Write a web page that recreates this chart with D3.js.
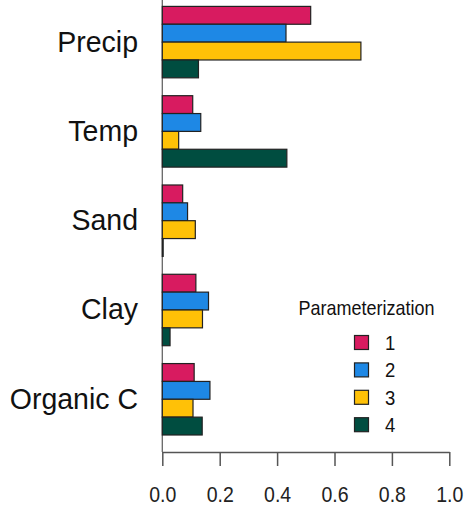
<!DOCTYPE html>
<html>
<head>
<meta charset="utf-8">
<script src="https://cdn.jsdelivr.net/npm/d3@7"></script>
<style>
  html, body { margin: 0; padding: 0; background: #fff; }
  svg { display: block; font-family: "Liberation Sans", Arial, sans-serif; }
</style>
</head>
<body>
<svg id="chart" width="466" height="510"></svg>
<script>
const categories = ["Precip", "Temp", "Sand", "Clay", "Organic C"];
const seriesNames = ["1", "2", "3", "4"];
const seriesColors = ["#D81B60", "#1E88E5", "#FFC107", "#004D40"];
const values1 = [0.517, 0.106, 0.071, 0.117, 0.111];
const values2 = [0.431, 0.134, 0.088, 0.161, 0.166];
const values3 = [0.692, 0.057, 0.115, 0.140, 0.107];
const values4 = [0.126, 0.434, 0.003, 0.027, 0.139];
const xTicks = [0, 0.2, 0.4, 0.6, 0.8, 1.0];
const legendTitle = "Parameterization";

const series = [values1, values2, values3, values4];

const svg = d3.select("#chart");
const x = d3.scaleLinear().domain([0, 1]).range([162.3, 449.3]);
// positions in bar units: each group = 4 bars + 1 gap
const y = d3.scaleLinear().domain([0, 24]).range([6.4, 435]);
const barH = y(1) - y(0);

const rows = [];
categories.forEach((c, gi) => {
  series.forEach((vals, si) => {
    rows.push({ cat: c, s: si, v: vals[gi], pos: gi * 5 + si });
  });
});

// y axis line
svg.append("line")
  .attr("x1", x(0)).attr("x2", x(0))
  .attr("y1", 0).attr("y2", 452)
  .attr("stroke", "#666").attr("stroke-width", 1.3);

svg.append("g").selectAll("rect").data(rows).enter().append("rect")
  .attr("x", x(0))
  .attr("y", d => y(d.pos))
  .attr("width", d => x(d.v) - x(0))
  .attr("height", barH)
  .attr("fill", d => seriesColors[d.s])
  .attr("stroke", "#222")
  .attr("stroke-width", 1.2);

// category labels
svg.append("g").selectAll("text").data(categories).enter().append("text")
  .attr("text-anchor", "end")
  .attr("font-size", 28.5)
  .attr("fill", "#111")
  .attr("transform", (d, i) => `translate(138,${y(i * 5 + 2) + 9.5}) scale(1,1.04)`)
  .text(d => d);

// x axis
const xAxis = d3.axisBottom(x)
  .tickValues(xTicks)
  .tickFormat(d3.format(".1f"))
  .tickSize(14)
  .tickSizeOuter(0);
const gx = svg.append("g")
  .attr("transform", "translate(0,452)")
  .call(xAxis);
gx.select(".domain").attr("stroke", "#555").attr("stroke-width", 1.5);
gx.selectAll(".tick line").attr("stroke", "#555").attr("stroke-width", 1.5);
gx.selectAll(".tick text")
  .attr("y", 0).attr("dy", null)
  .attr("transform", "translate(0,49.5) scale(1,1.15)")
  .attr("font-size", 19.5)
  .attr("font-family", "Liberation Sans, Arial, sans-serif")
  .attr("fill", "#222");

// legend
const lg = svg.append("g");
lg.append("text")
  .attr("text-anchor", "middle")
  .attr("font-size", 18)
  .attr("fill", "#111")
  .attr("transform", "translate(366.5,315) scale(1,1.15)")
  .text(legendTitle);
const rowY = d3.scaleLinear().domain([0, 3]).range([342.5, 424.7]);
const items = lg.selectAll("g.item").data(seriesNames).enter().append("g")
  .attr("class", "item");
items.append("rect")
  .attr("x", 354.5)
  .attr("y", (d, i) => rowY(i) - 7)
  .attr("width", 14).attr("height", 14)
  .attr("fill", (d, i) => seriesColors[i])
  .attr("stroke", "#222").attr("stroke-width", 1.2);
items.append("text")
  .attr("font-size", 18.5)
  .attr("fill", "#111")
  .attr("transform", (d, i) => `translate(385,${rowY(i) + 7.5}) scale(1,1.1)`)
  .text(d => d);
</script>
</body>
</html>
